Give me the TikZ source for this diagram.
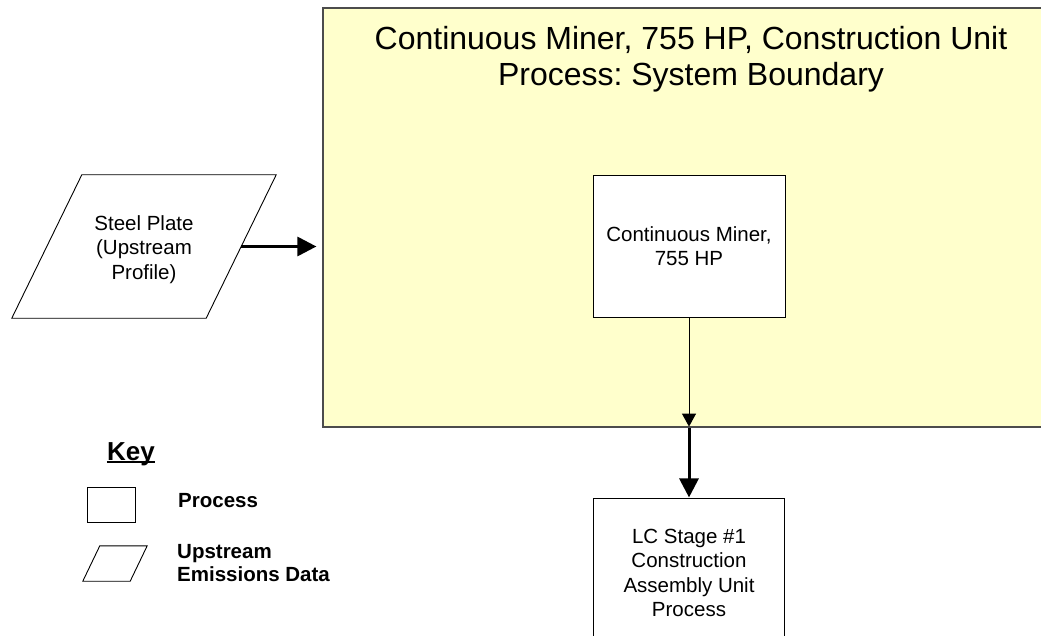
\documentclass[tikz,border=0pt]{standalone}
\usepackage{fontspec}
\setmainfont{Liberation Sans}
\usepackage{tikz}
\usetikzlibrary{positioning,shapes.geometric,arrows.meta}
\definecolor{bndyellow}{HTML}{FFFFCC}
\frenchspacing
\tikzset{
  >={Triangle[length=19pt,width=19pt]},
  boundary/.style={
    rectangle,
    draw=black!70, line width=1.2pt,
    fill=bndyellow,
    minimum width=736pt,
    minimum height=419pt},
  bndtitle/.style={
    inner sep=0pt,
    align=center,
    font=\fontsize{32}{36}\selectfont},
  procbox/.style={
    rectangle,
    draw=black, line width=0.9pt,
    fill=white,
    inner sep=0pt,
    align=center,
    font=\fontsize{20.5}{24.5}\selectfont},
  % text part of a parallelogram; the outline is drawn separately
  inputbox/.style={
    rectangle,
    inner sep=0pt,
    align=center,
    font=\fontsize{20.5}{24.5}\selectfont},
  outline/.style={draw=black, line width=0.9pt, fill=white},
  keyhead/.style={inner sep=0pt, font=\fontsize{26}{30}\selectfont\bfseries},
  keytext/.style={inner sep=0pt, align=left, font=\fontsize{20.5}{23}\selectfont\bfseries},
  bigline/.style={draw, line width=3pt, ->},
  smallline/.style={draw, line width=1pt, -{Triangle[length=13pt,width=14pt]}},
}
\begin{document}
\begin{tikzpicture}[x=1pt,y=-1pt]
  \clip (0,0) rectangle (1041,636);

  % system boundary with its title
  \node[boundary] (bnd) at (691,217.5) {};
  \node[bndtitle, below=19pt of bnd.north] (bndname)
    {Continuous Miner, 755 HP, Construction Unit\\Process: System Boundary};

  % upstream input, slanted by 35pt at top and bottom
  \node[inputbox, minimum width=194pt, minimum height=143pt] (steel) at (144,246.5) {};
  \draw[outline] ([xshift=35pt]steel.north west) -- ([xshift=35pt]steel.north east)
    -- ([xshift=-35pt]steel.south east) -- ([xshift=-35pt]steel.south west) -- cycle;
  \node[inputbox] (steeltext) at ([yshift=-3pt]steel.center) {Steel Plate\\(Upstream\\Profile)};

  \node[procbox, minimum width=192pt, minimum height=142pt] (miner) at (689,246)
    {Continuous Miner,\\755 HP};
  \node[procbox, minimum width=191pt, minimum height=148pt, below=181pt of miner] (lcstage)
    {LC Stage \#1\\Construction\\Assembly Unit\\Process};

  \coordinate (exit) at (miner |- bnd.south);
  \draw[bigline, shorten >=6pt] (steel) -- (steel -| bnd.west);
  \draw[smallline, shorten >=1pt] (miner) -- (exit);
  \draw[bigline, shorten >=1pt] (exit) -- (lcstage);

  % key
  \node[keyhead] (key) at (131,454) {Key};
  \draw[line width=1.5pt] ([yshift=-2pt]key.base west) -- ([yshift=-2pt]key.base east);
  \node[procbox, minimum width=48pt, minimum height=35pt] (keyproc) at (111,504.5) {};
  \node[keytext, anchor=west] (keyproclbl) at (178,501) {Process};
  \node[inputbox, minimum width=47pt, minimum height=35pt] (keyinput) at (115,563.5) {};
  \draw[outline] ([xshift=8.5pt]keyinput.north west) -- ([xshift=8.5pt]keyinput.north east)
    -- ([xshift=-8.5pt]keyinput.south east) -- ([xshift=-8.5pt]keyinput.south west) -- cycle;
  \node[keytext, anchor=west] (keyinputlbl) at (177,563.5) {Upstream\\Emissions Data};
\end{tikzpicture}
\end{document}
